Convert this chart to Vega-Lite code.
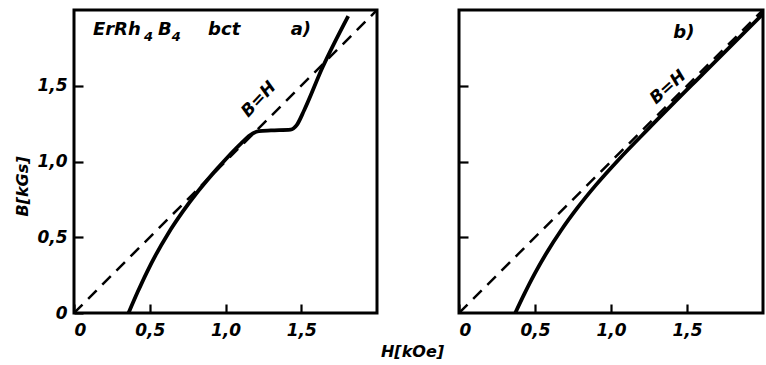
{
  "$schema": "https://vega.github.io/schema/vega-lite/v6.json",
  "padding": {"left": 13, "top": 8, "right": 0, "bottom": 0},
  "background": "white",
  "bounds": "flush",
  "datasets": {
    "curveA": [
      {"H": 0.36, "B": 0.0}, {"H": 0.42, "B": 0.138}, {"H": 0.48, "B": 0.267}, {"H": 0.54, "B": 0.384},
      {"H": 0.62, "B": 0.522}, {"H": 0.72, "B": 0.672}, {"H": 0.82, "B": 0.805}, {"H": 0.95, "B": 0.958},
      {"H": 1.1, "B": 1.117}, {"H": 1.18, "B": 1.185}, {"H": 1.22, "B": 1.2}, {"H": 1.3, "B": 1.205},
      {"H": 1.43, "B": 1.21}, {"H": 1.47, "B": 1.24}, {"H": 1.52, "B": 1.34}, {"H": 1.64, "B": 1.62},
      {"H": 1.81, "B": 1.96}
    ],
    "curveB": [
      {"H": 0.37, "B": 0.0}, {"H": 0.43, "B": 0.126}, {"H": 0.5, "B": 0.263}, {"H": 0.58, "B": 0.403},
      {"H": 0.67, "B": 0.543}, {"H": 0.78, "B": 0.695}, {"H": 0.9, "B": 0.844}, {"H": 1.05, "B": 1.012},
      {"H": 1.25, "B": 1.22}, {"H": 1.6, "B": 1.574}, {"H": 2.02, "B": 1.994}
    ],
    "diag": [{"H": 0, "B": 0}, {"H": 2, "B": 2}],
    "textA": [
      {"H": 0.125, "B": 1.868, "t": "ErRh"},
      {"H": 0.554, "B": 1.868, "t": "B"},
      {"H": 0.885, "B": 1.868, "t": "bct"},
      {"H": 1.43, "B": 1.868, "t": "a)"}
    ],
    "subA": [
      {"H": 0.462, "B": 1.82, "t": "4"},
      {"H": 0.645, "B": 1.82, "t": "4"}
    ],
    "bhA": [{"H": 1.22, "B": 1.41, "t": "B=H"}],
    "textB": [{"H": 1.41, "B": 1.85, "t": "b)"}],
    "bhB": [{"H": 1.375, "B": 1.49, "t": "B=H"}]
  },
  "config": {
    "font": "DejaVu Sans",
    "view": {"stroke": "black", "strokeWidth": 3},
    "axis": {
      "domain": false,
      "grid": false,
      "tickColor": "black",
      "tickWidth": 2.2,
      "tickSize": -9,
      "labelFont": "DejaVu Sans",
      "labelFontStyle": "italic",
      "labelFontWeight": "bold",
      "labelFontSize": 17,
      "labelColor": "black",
      "titleFont": "DejaVu Sans",
      "titleFontStyle": "italic",
      "titleFontWeight": "bold",
      "titleFontSize": 16,
      "titleColor": "black"
    }
  },
  "spacing": 82,
  "hconcat": [
    {
      "width": 303,
      "height": 303,
      "encoding": {
        "x": {"field": "H", "type": "quantitative", "scale": {"domain": [0, 2], "nice": false},
          "axis": {"values": [0, 0.5, 1, 1.5], "labelPadding": 18, "title": "H[kOe]",
            "titleX": 338, "titleY": 30, "titleAlign": "center", "titleBaseline": "top",
            "labelExpr": "datum.value == 0 ? '0' : replace(format(datum.value, '.1f'), '.', ',')"}},
        "y": {"field": "B", "type": "quantitative", "scale": {"domain": [0, 2], "nice": false},
          "axis": {"values": [0, 0.5, 1, 1.5], "labelPadding": 16, "title": "B[kGs]", "titlePadding": 6, "titleY": 176,
            "labelExpr": "datum.value == 0 ? '0' : replace(format(datum.value, '.1f'), '.', ',')"}}
      },
      "layer": [
        {"data": {"name": "diag"}, "mark": {"type": "line", "color": "black", "strokeWidth": 2.5, "strokeDash": [12, 8], "clip": true}},
        {"data": {"name": "curveA"}, "mark": {"type": "line", "color": "black", "strokeWidth": 3.8, "interpolate": "monotone", "clip": true}},
        {"data": {"name": "textA"}, "mark": {"type": "text", "align": "left", "baseline": "middle", "fontSize": 18, "fontStyle": "italic", "fontWeight": "bold", "color": "black"},
          "encoding": {"text": {"field": "t"}}},
        {"data": {"name": "subA"}, "mark": {"type": "text", "align": "left", "baseline": "middle", "fontSize": 13, "fontStyle": "italic", "fontWeight": "bold", "color": "black"},
          "encoding": {"text": {"field": "t"}}},
        {"data": {"name": "bhA"}, "mark": {"type": "text", "align": "center", "baseline": "middle", "angle": -47, "fontSize": 17, "fontStyle": "italic", "fontWeight": "bold", "color": "black"},
          "encoding": {"text": {"field": "t"}}}
      ]
    },
    {
      "width": 304,
      "height": 303,
      "encoding": {
        "x": {"field": "H", "type": "quantitative", "scale": {"domain": [0, 2], "nice": false},
          "axis": {"values": [0, 0.5, 1, 1.5], "labelPadding": 18, "title": null,
            "labelExpr": "datum.value == 0 ? '0' : replace(format(datum.value, '.1f'), '.', ',')"}},
        "y": {"field": "B", "type": "quantitative", "scale": {"domain": [0, 2], "nice": false},
          "axis": {"values": [0.5, 1, 1.5], "labels": false, "title": null}}
      },
      "layer": [
        {"data": {"name": "diag"}, "mark": {"type": "line", "color": "black", "strokeWidth": 2.5, "strokeDash": [12, 8], "clip": true}},
        {"data": {"name": "curveB"}, "mark": {"type": "line", "color": "black", "strokeWidth": 3.8, "interpolate": "monotone", "clip": true}},
        {"data": {"name": "textB"}, "mark": {"type": "text", "align": "left", "baseline": "middle", "fontSize": 18, "fontStyle": "italic", "fontWeight": "bold", "color": "black"},
          "encoding": {"text": {"field": "t"}}},
        {"data": {"name": "bhB"}, "mark": {"type": "text", "align": "center", "baseline": "middle", "angle": -42, "fontSize": 17, "fontStyle": "italic", "fontWeight": "bold", "color": "black"},
          "encoding": {"text": {"field": "t"}}}
      ]
    }
  ]
}
